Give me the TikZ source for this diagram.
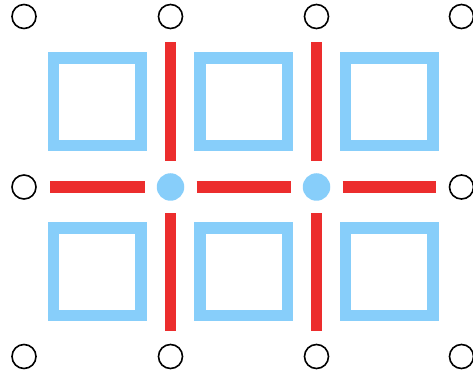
\documentclass[tikz,border=0pt]{standalone}
\usetikzlibrary{calc}
\definecolor{cellblue}{HTML}{87CEFA}
\definecolor{bondred}{HTML}{EC2D2D}

\begin{document}
\begin{tikzpicture}[x=1pt,y=-1pt,
 site/.style={circle,draw=black,line width=1.6pt,minimum size=24pt,inner sep=0pt},
 hub/.style={circle,fill=cellblue,minimum size=27.5pt,inner sep=0pt},
 plaq/.style={draw=cellblue,line width=11.5pt,minimum size=87.5pt,inner sep=0pt},
 bond/.style={bondred,line width=11.5pt,shorten <=26pt,shorten >=26pt}]
\useasboundingbox (0,0) rectangle (473,379);
% Lattice sites: four columns, three rows.
\foreach \c/\x in {1/24,2/170.5,3/316.5,4/461.5}{
 \foreach \r/\y in {1/16.5,2/187,3/356.5}{
  \coordinate (p\c\r) at (\x,\y);
 }
}
% Plaquettes between the sites.
\foreach \c [evaluate=\c as \d using int(\c+1)] in {1,2,3}{
 \foreach \r [evaluate=\r as \s using int(\r+1)] in {1,2}{
  \node[plaq] (q\c\r) at ($(p\c\r)!0.5!(p\d\s)$) {};
 }
}
% Outer sites are open, the two inner ones filled.
\foreach \c/\r in {1/1,2/1,3/1,4/1,1/2,4/2,1/3,2/3,3/3,4/3}{
 \node[site] (n\c\r) at (p\c\r) {};
}
\node[hub] (n22) at (p22) {};
\node[hub] (n32) at (p32) {};
% Bonds.
\draw[bond] (n12.center) -- (n22.center);
\draw[bond] (n22.center) -- (n32.center);
\draw[bond] (n32.center) -- (n42.center);
\foreach \c in {2,3}{
 \draw[bond] (n\c1.center) -- (n\c2.center);
 \draw[bond] (n\c2.center) -- (n\c3.center);
}
\end{tikzpicture}
\end{document}
